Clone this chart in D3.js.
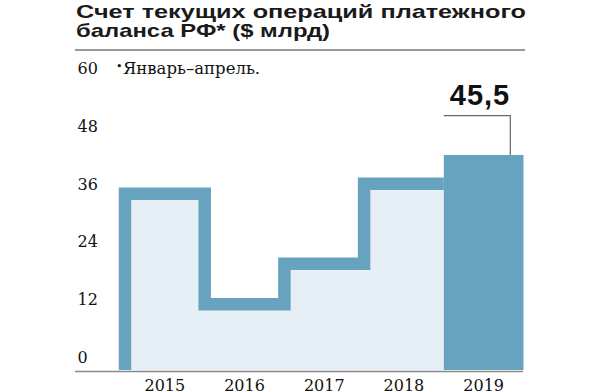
<!DOCTYPE html>
<html><head><meta charset="utf-8">
<script src="https://cdn.jsdelivr.net/npm/d3@7"></script>
<style>html,body{margin:0;padding:0;background:#fff;}svg{display:block;}</style>
</head><body>
<script>
const years = ["2015","2016","2017","2018","2019"];
const values = [37.3, 13.9, 22.5, 39.4, 45.5];
const tickValues = [0, 12, 24, 36, 48, 60];
const tickLabels = ["0", "12", "24", "36", "48", "60"];
const titleLines = ["Счет текущих операций платежного", "баланса РФ* ($ млрд)"];
const footnote = "Январь–апрель.";
const highlightLabel = "45,5";

const W = 600, H = 392;
const svg = d3.select("body").append("svg").attr("width", W).attr("height", H);

const x = d3.scaleBand().domain(years).range([125, 523.5]).padding(0);
const y = d3.scaleLinear().domain([0, 45.5]).range([370, 155]);
const yLab = d3.scaleLinear().domain([0, 60]).range([363, 74]);

const blue = "#67a3bf", light = "#e7eff6";

// title (horizontally wide lettering, as in the reference)
const titleWidths = [450, 254];
svg.append("g").selectAll("text").data(titleLines).join("text")
  .attr("x", 76).attr("y", (d, i) => 17.5 + i * 19.5)
  .attr("font-family", "Liberation Sans, Arial, sans-serif")
  .attr("font-weight", "bold").attr("font-size", 18.5).attr("fill", "#1a1a1a")
  .attr("textLength", (d, i) => titleWidths[i]).attr("lengthAdjust", "spacingAndGlyphs")
  .text(d => d);
svg.append("line").attr("x1", 75).attr("x2", 525).attr("y1", 50).attr("y2", 50)
  .attr("stroke", "#333").attr("stroke-width", 1);

// step series (first four years)
const prev = years.slice(0, 4);
const pts = [[x(years[0]), 0]].concat(prev.map((yr, i) => [x(years[i + 1]), values[i]]));
const area = d3.area().curve(d3.curveStepBefore)
  .x(d => d[0]).y0(y(0)).y1(d => y(d[1]));
const line = d3.line().curve(d3.curveStepBefore)
  .x(d => d[0]).y(d => y(d[1]));
svg.append("path").attr("d", area(pts)).attr("fill", light);
svg.append("path").attr("d", line(pts)).attr("fill", "none")
  .attr("stroke", blue).attr("stroke-width", 12.5).attr("stroke-linejoin", "miter");

// highlighted last bar
const last = years[4];
svg.append("rect").attr("x", x(last)).attr("width", x.bandwidth())
  .attr("y", y(values[4])).attr("height", y(0) - y(values[4])).attr("fill", blue);

// leader line + label
const lx = x(last) + 66.5, ly = 115.7;
svg.append("path").attr("d", `M${x(last)},${ly}H${lx}V${y(values[4])}`)
  .attr("fill", "none").attr("stroke", "#666").attr("stroke-width", 1.2);
svg.append("text").attr("x", 480).attr("y", 105).attr("text-anchor", "middle")
  .attr("font-family", "Liberation Sans, Arial, sans-serif").attr("font-weight", "bold")
  .attr("font-size", 29).attr("letter-spacing", 1).attr("fill", "#111").text(highlightLabel);

// baseline
svg.append("line").attr("x1", 75).attr("x2", 523).attr("y1", 371.6).attr("y2", 371.6)
  .attr("stroke", "#888").attr("stroke-width", 1.5);

// y tick labels
svg.append("g").selectAll("text").data(tickValues).join("text")
  .attr("x", 77.5).attr("y", d => yLab(d))
  .attr("font-family", "DejaVu Serif, serif").attr("font-size", 16).attr("fill", "#111")
  .text((d, i) => tickLabels[i]);

// footnote
const fn = svg.append("text").attr("x", 116).attr("y", 74)
  .attr("font-family", "DejaVu Serif, serif").attr("font-size", 16.5).attr("fill", "#111");
fn.append("tspan").attr("font-size", 11).attr("dy", -4).text("•");
fn.append("tspan").attr("dy", 4).attr("dx", 0.5).text(footnote);

// x labels
svg.append("g").selectAll("text").data(years).join("text")
  .attr("x", d => x(d) + x.bandwidth() / 2).attr("y", 391).attr("text-anchor", "middle")
  .attr("font-family", "DejaVu Serif, serif").attr("font-size", 16).attr("fill", "#111")
  .text(d => d);
</script>
</body></html>
